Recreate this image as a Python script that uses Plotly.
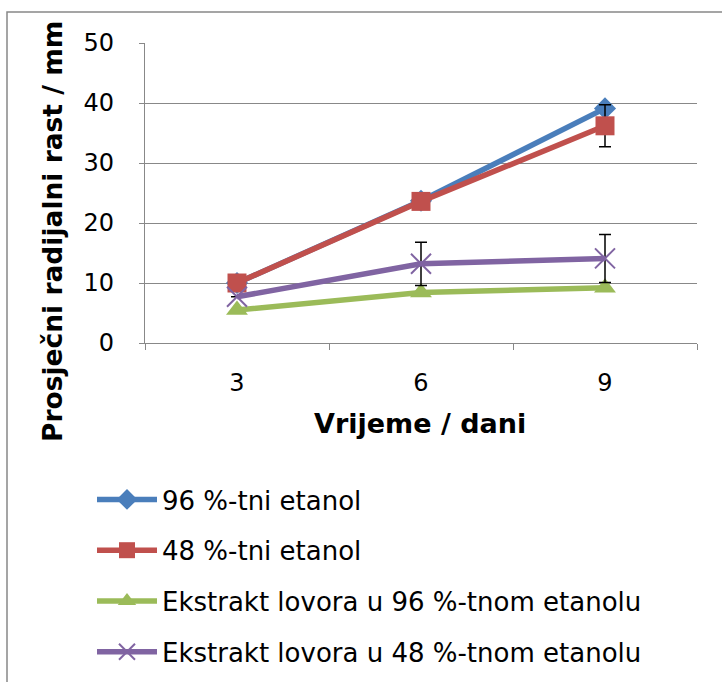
import plotly.graph_objects as go

days = ["3", "6", "9"]
names = ["96 %-tni etanol", "48 %-tni etanol",
         "Ekstrakt lovora u 96 %-tnom etanolu", "Ekstrakt lovora u 48 %-tnom etanolu"]
eth96 = [10.0, 23.7, 39.1]
eth48 = [10.0, 23.6, 36.2]
ext96 = [5.5, 8.4, 9.2]
ext48 = [7.7, 13.2, 14.1]
err_eth96 = [0, 0, 0]
err_eth48 = [0, 0, 3.5]
err_ext96 = [0, 0, 0]
err_ext48 = [0, 3.6, 4.0]

colors = ["#4A7EBB", "#C0504D", "#9BBB59", "#8064A2"]
symbols = ["diamond", "square", "triangle-up", "x-thin-open"]
sizes = [17, 19, 19, 20]
series = [eth96, eth48, ext96, ext48]
errs = [err_eth96, err_eth48, err_ext96, err_ext48]

W, H = 722, 682
L, R, T, B = 145, 697, 43, 343
pw, ph = R - L, B - T

def px(x):
    return (x - L) / pw

def py(y):
    return (B - y) / ph

fig = go.Figure()
for i in range(4):
    marker = dict(symbol=symbols[i], size=sizes[i], color=colors[i])
    if symbols[i] == "x-thin-open":
        marker["line"] = dict(color=colors[i], width=2)
    fig.add_trace(go.Scatter(
        x=days, y=series[i], name=names[i], mode="lines+markers",
        line=dict(color=colors[i], width=5.5),
        marker=marker,
        legendgroup=f"g{i}",
        error_y=dict(type="data", array=errs[i], visible=True,
                     color="black", thickness=1.5, width=6),
    ))

grid = "#888888"
fig.update_layout(
    width=W, height=H,
    margin=dict(l=L, r=W - R, t=T, b=H - B, autoexpand=False),
    paper_bgcolor="white", plot_bgcolor="white",
    font=dict(family="DejaVu Sans", size=24, color="black"),
    showlegend=True,
    legend=dict(x=px(92), y=py(476), xanchor="left", yanchor="top",
                tracegroupgap=14, font=dict(size=26), itemwidth=60,
                bgcolor="rgba(0,0,0,0)"),
    xaxis=dict(type="category", range=[-0.5, 2.5], showgrid=False,
               showline=True, linecolor=grid, linewidth=1.3,
               ticks="outside", tickson="boundaries", ticklen=6,
               tickcolor=grid, tickwidth=1.3, ticklabelstandoff=18,
               tickfont=dict(size=24), zeroline=False),
    yaxis=dict(range=[0, 50], dtick=10, showgrid=True, gridcolor=grid,
               gridwidth=1.3, showline=True, linecolor=grid, linewidth=1.3,
               ticks="outside", ticklen=5, tickcolor=grid, tickwidth=1.3,
               ticklabelstandoff=20, tickfont=dict(size=24), zeroline=False),
    annotations=[
        dict(text="<b>Vrijeme / dani</b>", xref="paper", yref="paper",
             x=px(420), y=py(423), xanchor="center", yanchor="middle",
             showarrow=False, font=dict(size=27)),
        dict(text="<b>Prosječni radijalni rast / mm</b>", xref="paper",
             yref="paper", x=px(52), y=py(232), xanchor="center",
             yanchor="middle", textangle=-90, showarrow=False,
             font=dict(size=26.5)),
    ],
    shapes=[dict(type="rect", xref="paper", yref="paper",
                 x0=px(7), y0=py(12), x1=px(740), y1=py(700),
                 line=dict(color=grid, width=1.5), layer="below")],
)

fig.write_html("out.html", config={"displayModeBar": False},
               post_script="document.body.style.margin='0px';document.body.style.overflow='hidden';")
